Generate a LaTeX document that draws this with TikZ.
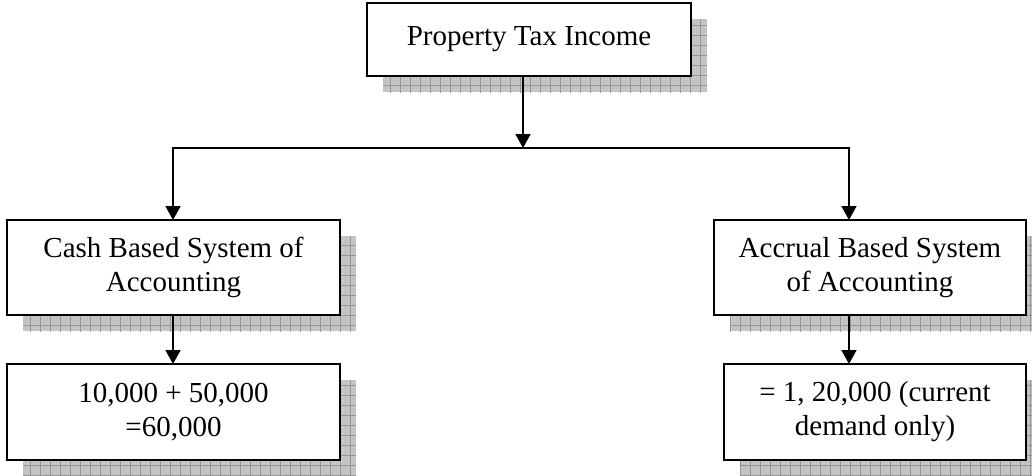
\documentclass[tikz,border=0pt]{standalone}
\usepackage{fontspec}
\setmainfont{Liberation Serif}
\usetikzlibrary{arrows.meta}
\pgfdeclarelayer{shadow}
\pgfsetlayers{shadow,main}
\definecolor{shadefill}{RGB}{196,196,196}
\definecolor{shadeline}{RGB}{150,150,150}
\tikzset{
  boxnode/.style={draw=black, line width=2pt, fill=white, inner sep=0pt,
    outer sep=0pt, align=center, font=\fontsize{29}{34}\selectfont},
  link/.style={line width=1.6pt},
  arrowlink/.style={link, -{Triangle[length=14pt,width=15pt]}},
}
\begin{document}
\begin{tikzpicture}[x=1pt,y=-1pt]
\useasboundingbox (0,0) rectangle (1032,475);

% boxes
\node[boxnode, minimum width=324pt, minimum height=73pt] (top) at (529,39.5)
  {Property Tax Income};
\node[boxnode, minimum width=333pt, minimum height=95pt] (midL) at (173.5,267.5)
  {Cash Based System of\\Accounting};
\node[boxnode, minimum width=312pt, minimum height=95pt] (midR) at (870,267.5)
  {Accrual Based System\\of Accounting};
\node[boxnode, minimum width=333pt, minimum height=96pt] (botL) at (173.5,412)
  {10,000 + 50,000\\=60,000};
\node[boxnode, minimum width=302pt, minimum height=96pt] (botR) at (875,412)
  {= 1, 20,000 (current\\demand only)};

% hatched drop shadows
\begin{pgfonlayer}{shadow}
\foreach \n in {top,midL,midR,botL,botR}{
  \begin{scope}
    \clip ([shift={(16,16)}]\n.north west) rectangle ([shift={(16,16)}]\n.south east);
    \fill[shadefill] ([shift={(16,16)}]\n.north west) rectangle ([shift={(16,16)}]\n.south east);
    \foreach \g in {0,10,...,1050}{\draw[shadeline, line width=0.9pt] (\g,0) -- (\g,495);}
    \foreach \g in {5,15,...,495}{\draw[shadeline, line width=0.9pt] (0,\g) -- (1050,\g);}
  \end{scope}
}
\end{pgfonlayer}

% connectors
\coordinate (hub) at (523,148);
\coordinate (hubL) at (173,148);
\coordinate (hubR) at (849,148);
\draw[arrowlink] (top.south -| hub) -- (hub);
\draw[link, line cap=rect] (hubL) -- (hubR);
\draw[arrowlink] (hubL) -- (hubL |- midL.north);
\draw[arrowlink] (hubR) -- (hubR |- midR.north);
\draw[arrowlink] (midL.south -| hubL) -- (botL.north -| hubL);
\draw[arrowlink] (midR.south -| hubR) -- (botR.north -| hubR);
\end{tikzpicture}
\end{document}
